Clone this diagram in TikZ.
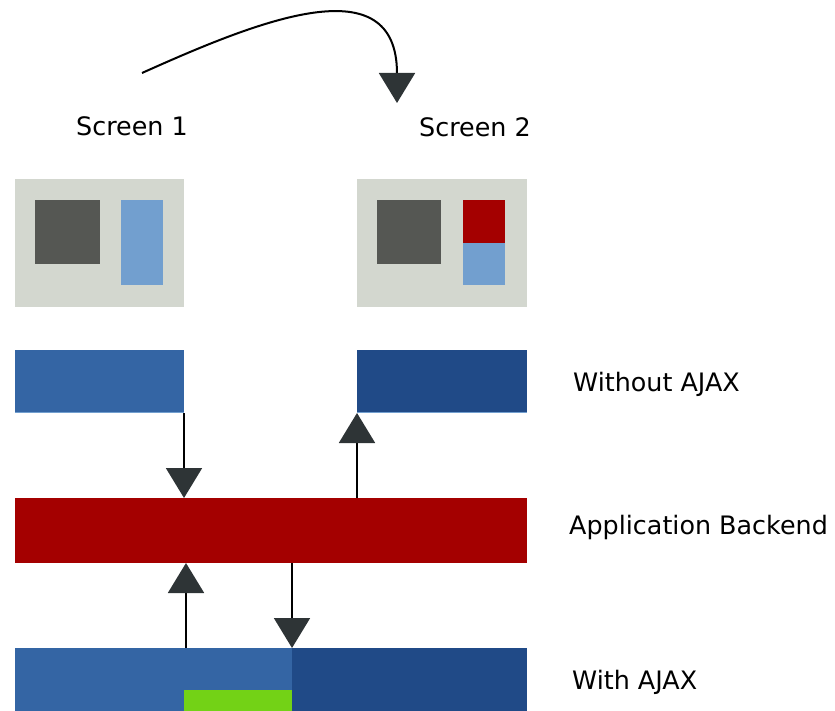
\documentclass[tikz,border=0pt]{standalone}
\usepackage{fontspec}
\setmainfont{DejaVu Sans}
\usetikzlibrary{arrows.meta}
\definecolor{grayc}{HTML}{D3D7CF}
\definecolor{darkc}{HTML}{555753}
\definecolor{lblue}{HTML}{729FCF}
\definecolor{mblue}{HTML}{3465A4}
\definecolor{dblue}{HTML}{204A87}
\definecolor{redc}{HTML}{A40000}
\definecolor{greenc}{HTML}{73D216}
\definecolor{arrc}{HTML}{2E3436}
\tikzset{
  blk/.style={anchor=north west, inner sep=0pt, outer sep=0pt, draw=none},
  lbl/.style={anchor=base west, inner sep=0pt, font=\fontsize{25.4}{30}\selectfont},
  arr/.style={line width=2pt, black, -{Triangle[width=36pt,length=30pt,color=arrc]}},
  edge line/.style={line width=1.2pt, lblue},
}
\begin{document}
\begin{tikzpicture}[x=1pt,y=-1pt]
\useasboundingbox (0,0) rectangle (835,711);
% screens
\node[blk, fill=grayc, minimum width=169pt, minimum height=128pt] (s1) at (15,179) {};
\node[blk, fill=darkc, minimum width=65pt, minimum height=64pt] (s1a) at (35,200) {};
\node[blk, fill=lblue, minimum width=42pt, minimum height=85pt] (s1b) at (121,200) {};
\node[blk, fill=grayc, minimum width=170pt, minimum height=128pt] (s2) at (357,179) {};
\node[blk, fill=darkc, minimum width=64pt, minimum height=64pt] (s2a) at (377,200) {};
\node[blk, fill=redc, minimum width=42pt, minimum height=43pt] (s2r) at (463,200) {};
\node[blk, fill=lblue, minimum width=42pt, minimum height=42pt] (s2b) at (463,243) {};
% bars
\node[blk, fill=mblue, minimum width=169pt, minimum height=63pt] (wo1) at (15,350) {};
\node[blk, fill=dblue, minimum width=170pt, minimum height=63pt] (wo2) at (357,350) {};
\draw[edge line] ([yshift=0.6pt]wo1.south west) -- ([yshift=0.6pt]wo1.south east);
\draw[edge line] ([yshift=0.6pt]wo2.south west) -- ([yshift=0.6pt]wo2.south east);
\node[blk, fill=redc, minimum width=512pt, minimum height=65pt] (be) at (15,498) {};
\node[blk, fill=mblue, minimum width=277pt, minimum height=63pt] (wa1) at (15,648) {};
\node[blk, fill=dblue, minimum width=235pt, minimum height=63pt] (wa2) at (292,648) {};
\node[blk, fill=greenc, minimum width=108pt, minimum height=21pt] (gr) at (184,690) {};
% labels
\node[lbl] (t1) at (76,136) {Screen 1};
\node[lbl] (t2) at (419,137) {Screen 2};
\node[lbl] (t3) at (573,391) {Without AJAX};
\node[lbl] (t4) at (569,534) {Application Backend};
\node[lbl] (t5) at (572,689) {With AJAX};
% arrows
\draw[arr] (wo1.south east) -- (wo1.south east |- be.north);
\draw[arr] (be.north -| wo2.south west) -- (wo2.south west);
\coordinate (u1) at (186,648);
\draw[arr] (u1) -- (u1 |- be.south);
\draw[arr] (be.south -| wa2.north west) -- (wa2.north west);
% top curve
\coordinate (cs) at (142,73);
\coordinate (ce) at (397,103);
\draw[arr] (cs) .. controls (260,20) and (397,-35) .. (ce);
\end{tikzpicture}
\end{document}
